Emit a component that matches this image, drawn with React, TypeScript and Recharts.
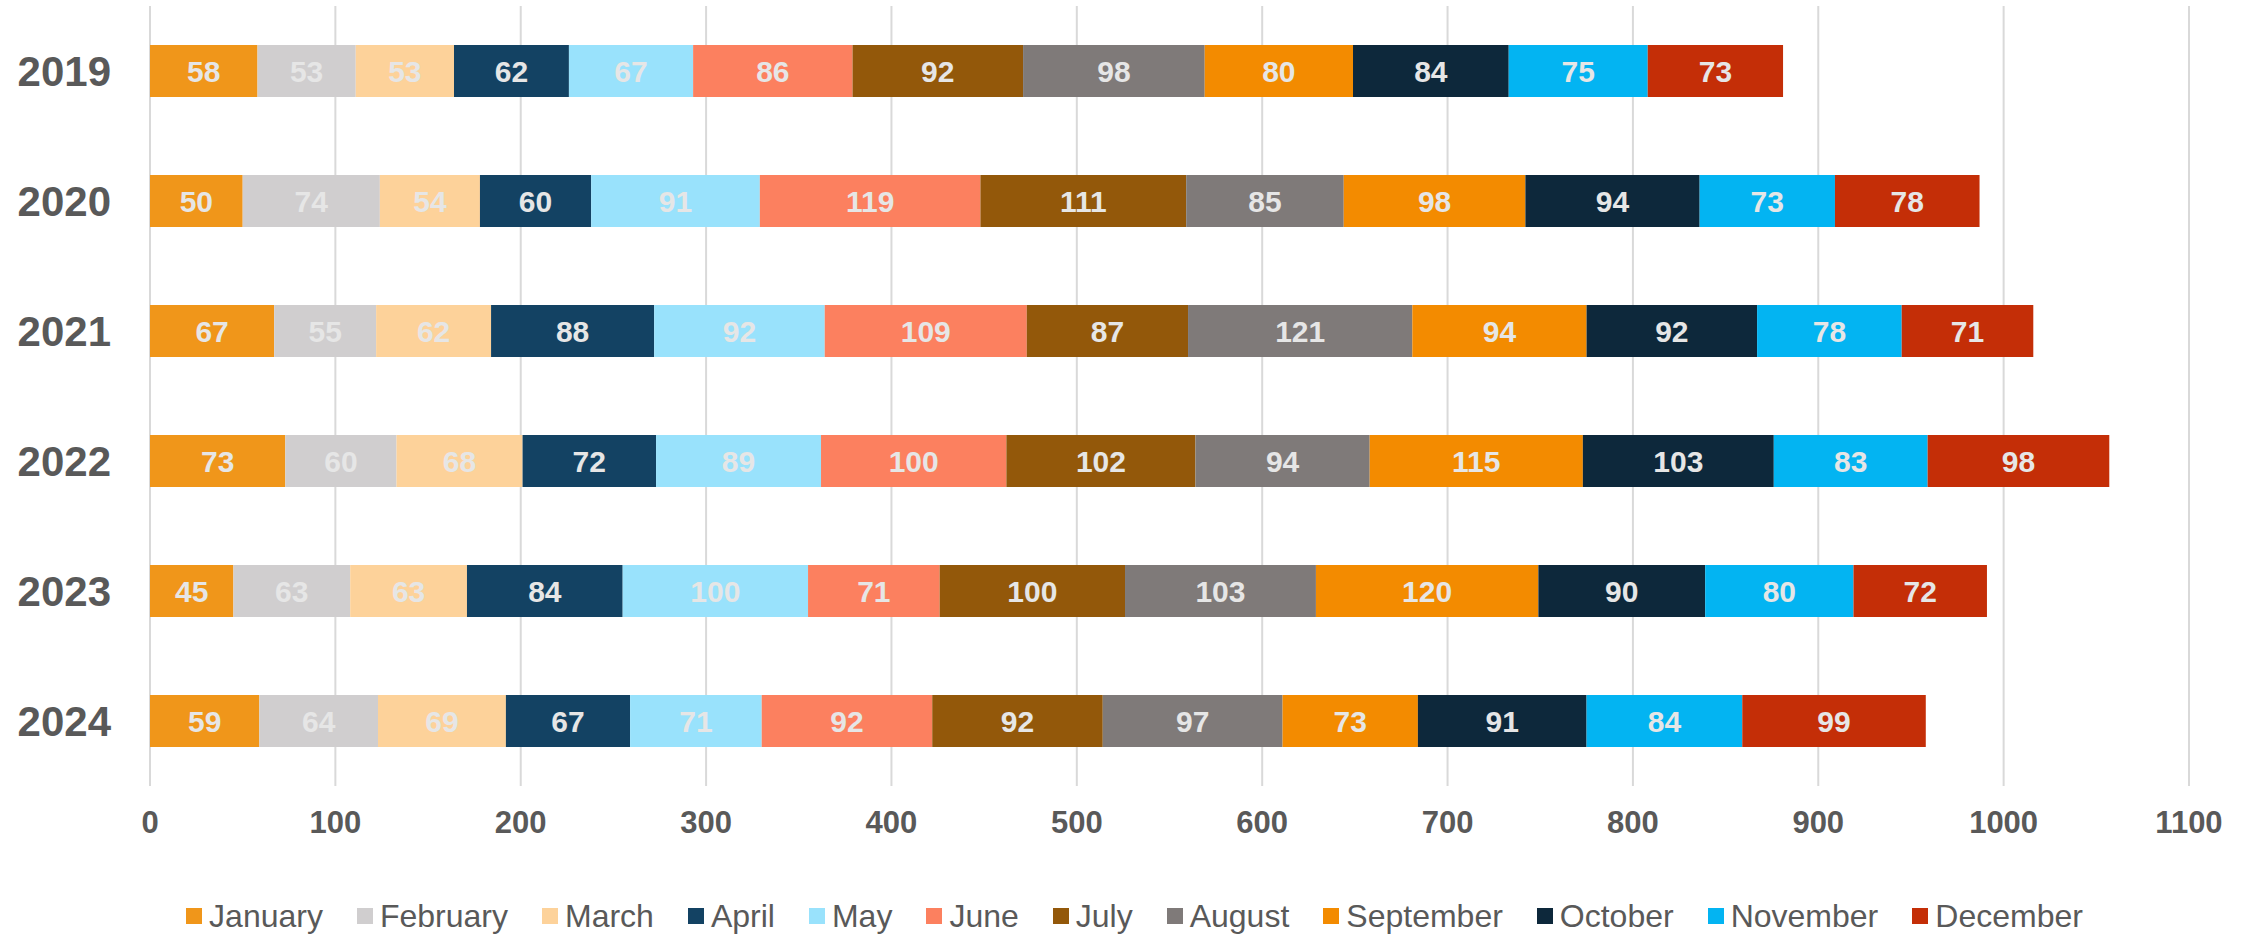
import React from 'react';
import { BarChart, Bar, XAxis, YAxis, CartesianGrid, Legend, LabelList } from 'recharts';

const years = ['2019', '2020', '2021', '2022', '2023', '2024'];
const months = ['January', 'February', 'March', 'April', 'May', 'June', 'July', 'August', 'September', 'October', 'November', 'December'];
const monthColors = ['#F0961A', '#D0CECF', '#FDD29A', '#134263', '#99E2FC', '#FC805F', '#93580A', '#7F7A79', '#F38B00', '#0D283B', '#03B4F2', '#C42E07'];

const january = [58, 50, 67, 73, 45, 59];
const february = [53, 74, 55, 60, 63, 64];
const march = [53, 54, 62, 68, 63, 69];
const april = [62, 60, 88, 72, 84, 67];
const may = [67, 91, 92, 89, 100, 71];
const june = [86, 119, 109, 100, 71, 92];
const july = [92, 111, 87, 102, 100, 92];
const august = [98, 85, 121, 94, 103, 97];
const september = [80, 98, 94, 115, 120, 73];
const october = [84, 94, 92, 103, 90, 91];
const november = [75, 73, 78, 83, 80, 84];
const december = [73, 78, 71, 98, 72, 99];

const xTicks = [0, 100, 200, 300, 400, 500, 600, 700, 800, 900, 1000, 1100];

const series = [january, february, march, april, may, june, july, august, september, october, november, december];

const data = years.map((year, i) => {
  const row: Record<string, string | number> = { year };
  months.forEach((m, j) => {
    row[m] = series[j][i];
  });
  return row;
});

const FONT = '"Liberation Sans", Arial, sans-serif';
const TEXT = '#595959';

function YearTick(props: any) {
  const { x, y, payload } = props;
  return (
    <text x={x - 39} y={y} textAnchor="end" dominantBaseline="central" fontFamily={FONT} fontSize={42} fontWeight="bold" fill={TEXT}>
      {payload.value}
    </text>
  );
}

function ValueTick(props: any) {
  const { x, y, payload } = props;
  return (
    <text x={x} y={y + 36} textAnchor="middle" dominantBaseline="central" fontFamily={FONT} fontSize={31} fontWeight="bold" fill={TEXT}>
      {payload.value}
    </text>
  );
}

function MonthLegend() {
  return (
    <div style={{ height: 55, paddingTop: 15, paddingLeft: 80, boxSizing: 'border-box', display: 'flex', justifyContent: 'center', alignItems: 'center', gap: 34, fontFamily: FONT, fontSize: 32, color: TEXT }}>
      {months.map((m, i) => (
        <div key={m} style={{ display: 'flex', alignItems: 'center', lineHeight: '36px' }}>
          <span style={{ width: 16, height: 16, background: monthColors[i], marginRight: 7, display: 'inline-block' }} />
          <span>{m}</span>
        </div>
      ))}
    </div>
  );
}

export default function App() {
  return (
    <div style={{ position: 'absolute', left: 0, top: 0, background: '#fff' }}>
      <BarChart
        width={2255}
        height={936}
        data={data}
        layout="vertical"
        margin={{ top: 6, right: 66, left: 0, bottom: 0 }}
        barSize={52}
      >
        <CartesianGrid horizontal={false} stroke="#D9D9D9" strokeWidth={2} />
        <XAxis
          type="number"
          domain={[0, 1100]}
          ticks={xTicks}
          axisLine={false}
          tickLine={false}
          tickSize={0}
          tickMargin={0}
          height={95}
          tick={<ValueTick />}
          interval={0}
        />
        <YAxis
          type="category"
          dataKey="year"
          width={150}
          axisLine={false}
          tickLine={false}
          tickSize={0}
          tickMargin={0}
          tick={<YearTick />}
        />
        <Legend verticalAlign="bottom" content={<MonthLegend />} />
        {months.map((m, i) => (
          <Bar key={m} dataKey={m} stackId="a" fill={monthColors[i]} isAnimationActive={false}>
            <LabelList dataKey={m} position="center" fill="#E6E6E6" fontFamily={FONT} fontSize={30} fontWeight="bold" />
          </Bar>
        ))}
      </BarChart>
    </div>
  );
}
